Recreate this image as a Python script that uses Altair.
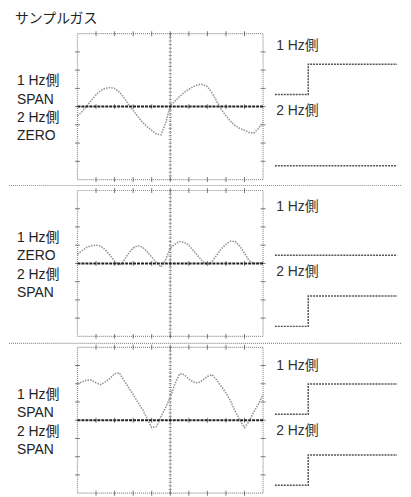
import altair as alt
import pandas as pd

# ---------------- data ----------------
title_text = "サンプルガス"

row_labels = [
    ["1 Hz側", "SPAN", "2 Hz側", "ZERO"],
    ["1 Hz側", "ZERO", "2 Hz側", "SPAN"],
    ["1 Hz側", "SPAN", "2 Hz側", "SPAN"],
]

# oscilloscope time axis (divisions) and traces (divisions)
trace_t = [0, 0.25, 0.5, 0.75, 1.0, 1.25, 1.5, 1.75, 2.0, 2.25, 2.5, 2.75, 3.0, 3.25,
           3.5, 3.75, 4.0, 4.25, 4.5, 4.75, 5.0, 5.25, 5.5, 5.75, 6.0, 6.25, 6.5, 6.75,
           7.0, 7.25, 7.5, 7.75, 8.0, 8.25, 8.5, 8.75, 9.0, 9.25, 9.5, 9.75, 10.0]

wave1 = [-0.50, -0.28, 0.03, 0.35, 0.65, 0.88, 1.00, 1.05, 1.00, 0.80, 0.50, 0.12, -0.20, -0.55,
         -0.85, -1.10, -1.30, -1.50, -1.55, -0.90, 0.05, 0.30, 0.55, 0.78, 0.95, 1.10, 1.20, 1.22,
         1.10, 0.75, 0.30, -0.15, -0.50, -0.80, -1.05, -1.20, -1.30, -1.42, -1.45, -1.20, -0.85]

wave2 = [0.50, 0.70, 0.88, 0.97, 1.00, 0.95, 0.75, 0.45, 0.12, -0.10, 0.15, 0.55, 0.85, 0.97,
         0.90, 0.65, 0.35, 0.05, -0.20, 0.20, 0.85, 1.05, 1.20, 1.15, 1.00, 0.70, 0.40, 0.10,
         -0.05, 0.10, 0.45, 0.80, 1.05, 1.22, 1.20, 0.95, 0.55, 0.15, 0.00, 0.02, 0.05]

wave3 = [2.00, 2.10, 2.20, 2.20, 2.05, 1.95, 2.10, 2.30, 2.55, 2.60, 2.20, 1.80, 1.40, 1.00,
         0.60, 0.10, -0.40, -0.35, 0.20, 0.70, 1.25, 2.00, 2.55, 2.50, 2.25, 2.10, 2.05, 2.20,
         2.40, 2.50, 2.20, 1.85, 1.50, 1.05, 0.50, 0.00, -0.40, -0.05, 0.45, 0.90, 1.40]

waves = [wave1, wave2, wave3]

baseline_t = [0, 10]
baseline_v = [0, 0]

# step (switching) signals: times and levels per row
step_t = [0, 2.4, 8.8]
channel_names = ["1 Hz側", "2 Hz側"]
step_1hz = [[0, 1, 1], [0, 0, 0], [0, 1, 1]]
step_2hz = [[0, 0, 0], [0, 1, 1], [0, 1, 1]]
channel_base = [2.35, 0.0]
channel_label_v = [3.95, 1.8]
step_domains = [[-0.46, 4.36], [-0.33, 4.49], [-0.26, 4.56]]

# graticule
major_x = [1, 2, 3, 4, 5, 6, 7, 8, 9]
major_y = [-3, -2, -1, 0, 1, 2, 3]
minor_y = [round(-4 + 0.2 * i, 2) for i in range(41)]

# ---------------- layout (pixels inside the chart) ----------------
TOTAL_W, TOTAL_H = 396, 489
X_SCOPE0, X_SCOPE1, X_STEP1 = 69, 256, 396
ROW_TOP = [24, 182, 340]
H_ROW = 147
SEP_Y = [177, 336]
FONT = "Liberation Sans, Noto Sans CJK JP"
INK = "#222222"
GRID = "#8c8c8c"

layers = []

# title
layers.append(alt.Chart(pd.DataFrame({"txt": [title_text]})).mark_text(
    align="left", baseline="middle", font="Noto Sans CJK JP", fontSize=14, color=INK
).encode(x=alt.value(6), y=alt.value(9), text="txt:N"))

# separators
for sy in SEP_Y:
    layers.append(alt.Chart(pd.DataFrame({"a": [0]})).mark_rule(
        color=GRID, strokeWidth=1.2, strokeDash=[1, 1]
    ).encode(x=alt.value(0), x2=alt.value(TOTAL_W), y=alt.value(sy)))

for r in range(3):
    top = ROW_TOP[r]
    bot = top + H_ROW

    # left labels
    df = pd.DataFrame({"i": list(range(4)), "txt": row_labels[r]})
    layers.append(alt.Chart(df).mark_text(
        align="left", baseline="middle", font=FONT, fontSize=14, color=INK
    ).encode(
        x=alt.value(8),
        y=alt.Y("i:O", axis=None, scale=alt.Scale(range=[top + 48, top + 103.5], padding=0)),
        text="txt:N",
    ))

    # oscilloscope
    xs = alt.Scale(domain=[0, 10], range=[X_SCOPE0, X_SCOPE1], nice=False, zero=False)
    ys = alt.Scale(domain=[-4, 4], range=[bot, top], nice=False, zero=False)
    X = lambda f, xs=xs: alt.X(f, type="quantitative", scale=xs, axis=None)
    Y = lambda f, ys=ys: alt.Y(f, type="quantitative", scale=ys, axis=None)

    layers.append(alt.Chart(pd.DataFrame({"x0": [0], "x1": [10], "y0": [-4], "y1": [4]})).mark_rect(
        fillOpacity=0, stroke=GRID, strokeWidth=1.2, strokeDash=[1, 1]
    ).encode(x=X("x0"), x2="x1", y=Y("y0"), y2="y1"))

    layers.append(alt.Chart(pd.DataFrame({"t": [5], "y0": [-4], "y1": [4]})).mark_rule(
        color=GRID, strokeWidth=1.2, strokeDash=[1, 1]
    ).encode(x=X("t"), y=Y("y0"), y2="y1"))

    tv = pd.DataFrame({"t": major_x * 3, "v": [4] * 9 + [-4] * 9 + [0] * 9})
    layers.append(alt.Chart(tv).mark_tick(orient="vertical", size=5, thickness=1, color="#444").encode(
        x=X("t"), y=Y("v")))

    th = pd.DataFrame({"t": [0] * 7 + [10] * 7, "v": major_y * 2})
    layers.append(alt.Chart(th).mark_tick(orient="horizontal", size=5, thickness=1, color="#444").encode(
        x=X("t"), y=Y("v")))

    tm = pd.DataFrame({"t": [5] * len(minor_y), "v": minor_y})
    layers.append(alt.Chart(tm).mark_tick(orient="horizontal", size=3, thickness=1, color="#666").encode(
        x=X("t"), y=Y("v")))

    layers.append(alt.Chart(pd.DataFrame({"t": trace_t, "v": waves[r]})).mark_line(
        color="#949494", strokeWidth=1.6, strokeDash=[1.5, 1.2]
    ).encode(x=X("t"), y=Y("v")))

    layers.append(alt.Chart(pd.DataFrame({"t": baseline_t, "v": baseline_v})).mark_line(
        color=INK, strokeWidth=2, strokeDash=[3, 1]
    ).encode(x=X("t"), y=Y("v")))

    # step signals
    sxs = alt.Scale(domain=[-0.85, 9.15], range=[X_SCOPE1, X_STEP1], nice=False, zero=False)
    sys_ = alt.Scale(domain=step_domains[r], range=[bot, top], nice=False, zero=False)
    recs = []
    for c, levels in enumerate([step_1hz[r], step_2hz[r]]):
        for t, lv in zip(step_t, levels):
            recs.append({"ch": channel_names[c], "t": t, "v": channel_base[c] + lv})
    layers.append(alt.Chart(pd.DataFrame(recs)).mark_line(
        interpolate="step-after", color="#555", strokeWidth=1.5, strokeDash=[2, 1]
    ).encode(
        x=alt.X("t:Q", scale=sxs, axis=None),
        y=alt.Y("v:Q", scale=sys_, axis=None),
        detail="ch:N",
    ))
    lab = pd.DataFrame({"ch": channel_names, "t": [0.1, 0.1], "v": channel_label_v})
    layers.append(alt.Chart(lab).mark_text(
        align="left", baseline="middle", font=FONT, fontSize=14, color="#333"
    ).encode(
        x=alt.X("t:Q", scale=sxs, axis=None),
        y=alt.Y("v:Q", scale=sys_, axis=None),
        text="ch:N",
    ))

chart = alt.layer(*layers).resolve_scale(x="independent", y="independent").properties(
    width=TOTAL_W, height=TOTAL_H, padding=0
).configure_view(stroke="transparent")

chart.save("out.html", embed_options={"renderer": "svg", "actions": False})
